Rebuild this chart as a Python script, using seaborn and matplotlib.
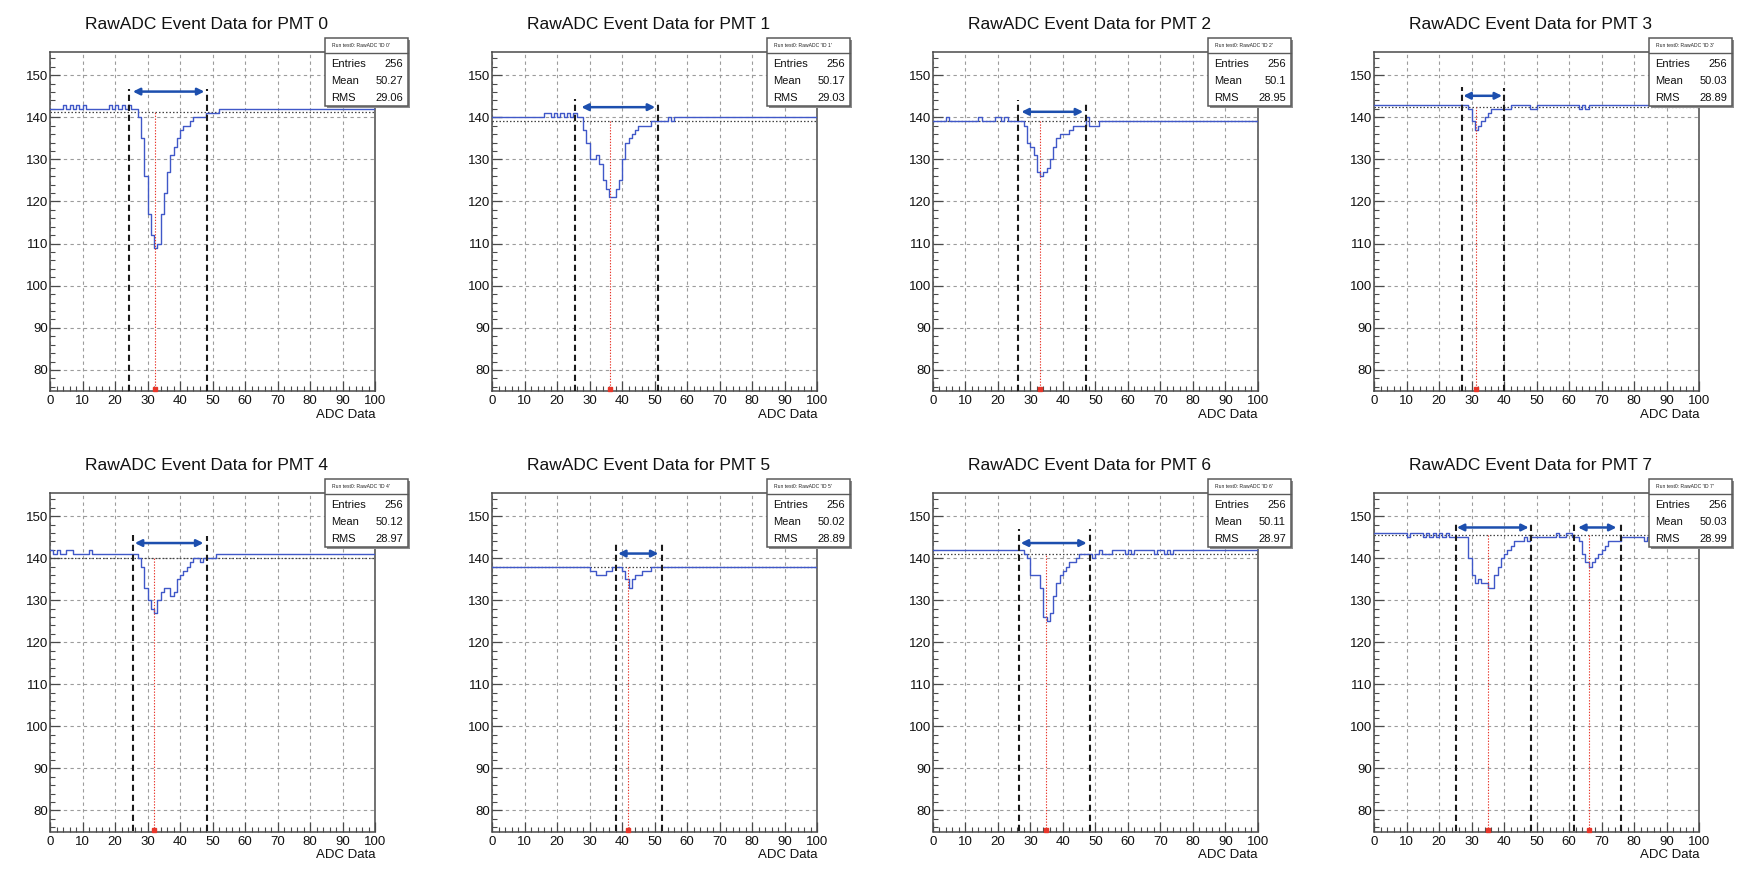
import numpy as np
import pandas as pd
import matplotlib
matplotlib.use("Agg")
import matplotlib.pyplot as plt
from matplotlib.patches import Rectangle
from matplotlib.ticker import MultipleLocator
import seaborn as sns

# ---------------------------------------------------------------------------
# Raw ADC samples per PMT channel, one value per bin (bins 0..99)
# ---------------------------------------------------------------------------
adc_pmt0 = [142, 142, 142, 142, 143, 142, 143, 142, 143, 142,
            143, 142, 142, 142, 142, 142, 142, 142, 143, 142,
            143, 142, 143, 142, 143, 142, 142, 140, 135, 126,
            117, 112, 109, 110, 117, 122, 127, 131, 133, 135,
            137, 138, 138, 139, 140, 140, 140, 140, 141, 141,
            141, 141, 142, 142, 142, 142, 142, 142, 142, 142,
            142, 142, 142, 142, 142, 142, 142, 142, 142, 142,
            142, 142, 142, 142, 142, 142, 142, 142, 142, 142,
            142, 142, 142, 142, 142, 142, 142, 142, 142, 142,
            142, 142, 142, 142, 142, 142, 142, 142, 142, 142]

adc_pmt1 = [140, 140, 140, 140, 140, 140, 140, 140, 140, 140,
            140, 140, 140, 140, 140, 140, 141, 141, 140, 141,
            140, 141, 140, 141, 140, 141, 140, 140, 137, 134,
            130, 130, 131, 129, 125, 123, 121, 121, 123, 125,
            130, 134, 135, 136, 137, 138, 138, 138, 138, 139,
            139, 139, 139, 139, 140, 139, 140, 140, 140, 140,
            140, 140, 140, 140, 140, 140, 140, 140, 140, 140,
            140, 140, 140, 140, 140, 140, 140, 140, 140, 140,
            140, 140, 140, 140, 140, 140, 140, 140, 140, 140,
            140, 140, 140, 140, 140, 140, 140, 140, 140, 140]

adc_pmt2 = [139, 139, 139, 139, 140, 139, 139, 139, 139, 139,
            139, 139, 139, 139, 140, 139, 139, 139, 139, 140,
            140, 139, 140, 139, 139, 139, 139, 139, 138, 134,
            133, 131, 127, 126, 127, 128, 130, 133, 135, 136,
            136, 136, 137, 138, 138, 138, 138, 140, 138, 138,
            138, 139, 139, 139, 139, 139, 139, 139, 139, 139,
            139, 139, 139, 139, 139, 139, 139, 139, 139, 139,
            139, 139, 139, 139, 139, 139, 139, 139, 139, 139,
            139, 139, 139, 139, 139, 139, 139, 139, 139, 139,
            139, 139, 139, 139, 139, 139, 139, 139, 139, 139]

adc_pmt3 = [143, 143, 143, 143, 143, 143, 143, 143, 143, 143,
            143, 143, 143, 143, 143, 143, 143, 143, 143, 143,
            143, 143, 143, 143, 143, 143, 143, 143, 143, 142,
            139, 137, 138, 139, 140, 141, 142, 142, 142, 142,
            142, 142, 143, 143, 143, 143, 143, 143, 142, 142,
            143, 143, 143, 143, 143, 143, 143, 143, 143, 143,
            143, 143, 143, 142, 143, 142, 143, 143, 143, 143,
            143, 143, 143, 143, 143, 143, 143, 143, 143, 143,
            143, 143, 143, 143, 143, 143, 143, 143, 143, 143,
            143, 143, 143, 143, 143, 143, 143, 143, 143, 143]

adc_pmt4 = [142, 141, 142, 141, 141, 142, 142, 141, 141, 141,
            141, 141, 142, 141, 141, 141, 141, 141, 141, 141,
            141, 141, 141, 141, 141, 141, 141, 140, 138, 133,
            130, 128, 127, 130, 132, 133, 133, 131, 132, 135,
            136, 137, 138, 139, 140, 140, 139, 140, 140, 140,
            140, 141, 141, 141, 141, 141, 141, 141, 141, 141,
            141, 141, 141, 141, 141, 141, 141, 141, 141, 141,
            141, 141, 141, 141, 141, 141, 141, 141, 141, 141,
            141, 141, 141, 141, 141, 141, 141, 141, 141, 141,
            141, 141, 141, 141, 141, 141, 141, 141, 141, 141]

adc_pmt5 = [138, 138, 138, 138, 138, 138, 138, 138, 138, 138,
            138, 138, 138, 138, 138, 138, 138, 138, 138, 138,
            138, 138, 138, 138, 138, 138, 138, 138, 138, 138,
            137, 137, 136, 136, 136, 137, 137, 138, 138, 138,
            137, 135, 133, 135, 136, 136, 137, 137, 137, 138,
            138, 138, 138, 138, 138, 138, 138, 138, 138, 138,
            138, 138, 138, 138, 138, 138, 138, 138, 138, 138,
            138, 138, 138, 138, 138, 138, 138, 138, 138, 138,
            138, 138, 138, 138, 138, 138, 138, 138, 138, 138,
            138, 138, 138, 138, 138, 138, 138, 138, 138, 138]

adc_pmt6 = [142, 142, 142, 142, 142, 142, 142, 142, 142, 142,
            142, 142, 142, 142, 142, 142, 142, 142, 142, 142,
            142, 142, 142, 142, 142, 142, 142, 142, 141, 140,
            136, 136, 136, 133, 126, 125, 127, 131, 134, 136,
            137, 138, 139, 139, 140, 141, 141, 141, 141, 140,
            141, 142, 141, 141, 141, 142, 142, 142, 142, 141,
            142, 141, 142, 142, 142, 142, 142, 142, 141, 142,
            142, 141, 142, 141, 142, 142, 142, 142, 142, 142,
            142, 142, 142, 142, 142, 142, 142, 142, 142, 142,
            142, 142, 142, 142, 142, 142, 142, 142, 142, 142]

adc_pmt7 = [146, 146, 146, 146, 146, 146, 146, 146, 146, 146,
            145, 146, 146, 146, 146, 145, 146, 145, 146, 145,
            146, 145, 146, 145, 145, 145, 145, 145, 145, 140,
            136, 134, 135, 134, 134, 133, 133, 136, 138, 140,
            141, 142, 143, 144, 144, 144, 145, 144, 145, 145,
            145, 145, 145, 145, 145, 145, 146, 145, 145, 146,
            146, 145, 145, 144, 141, 139, 138, 139, 140, 141,
            142, 143, 144, 144, 144, 144, 145, 145, 145, 145,
            145, 145, 145, 144, 145, 145, 145, 145, 145, 145,
            145, 145, 145, 145, 145, 145, 145, 145, 145, 145]

channels = [0, 1, 2, 3, 4, 5, 6, 7]
waveforms = [adc_pmt0, adc_pmt1, adc_pmt2, adc_pmt3,
             adc_pmt4, adc_pmt5, adc_pmt6, adc_pmt7]

# Histogram statistics printed in each stats box
stat_entries = [256, 256, 256, 256, 256, 256, 256, 256]
stat_mean = ["50.27", "50.17", "50.1", "50.03", "50.12", "50.02", "50.11", "50.03"]
stat_rms = ["29.06", "29.03", "28.95", "28.89", "28.97", "28.89", "28.97", "28.99"]

# Pulse analysis overlays: pedestal level, integration windows, peak bins
pedestal = [141.2, 139.0, 139.0, 142.5, 140.0, 138.0, 141.0, 145.4]
window_lo = [[24.3], [25.5], [26.2], [27.2], [25.6], [38.3], [26.5], [25.3, 61.5]]
window_hi = [[48.3], [51.2], [47.1], [40.1], [48.3], [52.2], [48.3], [48.4, 76.1]]
window_top_lo = [[146.6], [144.3], [144.0], [147.1], [145.6], [143.9], [147.0], [148.6, 148.4]]
window_top_hi = [[146.6], [143.7], [143.7], [146.9], [145.3], [143.9], [147.0], [148.6, 148.2]]
arrow_y = [[146.1], [142.4], [141.3], [145.1], [143.6], [141.1], [143.6], [147.3, 147.3]]
arrow_x0 = [[25.5], [27.5], [27.2], [27.5], [26.1], [38.8], [27.0], [25.5, 62.8]]
arrow_x1 = [[47.5], [50.2], [46.2], [39.4], [47.2], [51.2], [47.3], [47.6, 74.6]]
peak_x = [[32.2], [36.3], [33.0], [31.3], [32.0], [41.8], [34.9], [35.0, 66.2]]

x_min, x_max = 0, 100
y_min, y_max = 75, 155.5

# Long-form table for seaborn: bin edges with the last value repeated for steps
rows = []
for ch, vals in zip(channels, waveforms):
    edges = np.arange(len(vals) + 1)
    ys = list(vals) + [vals[-1]]
    for e, v in zip(edges, ys):
        rows.append({"pmt": ch, "ADC": e, "value": v})
df = pd.DataFrame(rows)

sns.set_theme(style="white")
plt.rcParams["font.family"] = ["Liberation Sans", "DejaVu Sans"]

fig = plt.figure(figsize=(17.39, 8.72), dpi=100)
fig.patch.set_facecolor("white")

W, H = 1739.0, 872.0
col_left = [50, 492, 933, 1374]
row_top = [52, 493]
row_bottom = [391, 831.5]
ax_w = 325

line_blue = "#4058c8"
arrow_blue = "#1d4fae"
frame = "#4a4a4a"

for i, ch in enumerate(channels):
    r, c = divmod(i, 4)
    left = col_left[c] / W
    bottom = 1 - row_bottom[r] / H
    height = (row_bottom[r] - row_top[r]) / H
    ax = fig.add_axes([left, bottom, ax_w / W, height])
    ax.set_facecolor("white")

    sub = df[df["pmt"] == ch]
    sns.lineplot(data=sub, x="ADC", y="value", ax=ax, drawstyle="steps-post",
                 color=line_blue, lw=1.0, errorbar=None, zorder=4)

    ax.set_xlim(x_min, x_max)
    ax.set_ylim(y_min, y_max)

    # pedestal reference
    ax.axhline(pedestal[i], color="#444444", lw=0.9, ls=(0, (1.2, 1.6)), zorder=3)

    # integration windows
    for k in range(len(window_lo[i])):
        ax.plot([window_lo[i][k], window_lo[i][k]], [y_min, window_top_lo[i][k]],
                color="#1c1c1c", lw=1.5, ls=(0, (3.0, 1.8)), zorder=5)
        ax.plot([window_hi[i][k], window_hi[i][k]], [y_min, window_top_hi[i][k]],
                color="#1c1c1c", lw=1.5, ls=(0, (3.0, 1.8)), zorder=5)
        ax.annotate("", xy=(arrow_x1[i][k], arrow_y[i][k]),
                    xytext=(arrow_x0[i][k], arrow_y[i][k]),
                    arrowprops=dict(arrowstyle="<|-|>", color=arrow_blue, lw=1.8,
                                    mutation_scale=10, shrinkA=0, shrinkB=0),
                    zorder=6)
        ax.plot([peak_x[i][k], peak_x[i][k]], [y_min, pedestal[i]],
                color="#e8362a", lw=0.8, ls=(0, (1.2, 1.4)), zorder=5)
        ax.plot([peak_x[i][k]], [y_min + 0.4], marker="s", ms=2.2,
                color="#e8362a", clip_on=False, zorder=6)

    # axes styling: inward major and minor ticks on left and bottom only
    ax.xaxis.set_major_locator(MultipleLocator(10))
    ax.xaxis.set_minor_locator(MultipleLocator(2))
    ax.yaxis.set_major_locator(MultipleLocator(10))
    ax.yaxis.set_minor_locator(MultipleLocator(2))
    ax.tick_params(axis="both", which="both", bottom=True, left=True,
                   top=False, right=False, direction="in", color=frame)
    ax.tick_params(axis="both", which="major", length=7, width=0.9,
                   labelsize=9.5, labelcolor="#111111")
    ax.tick_params(axis="both", which="minor", length=3.5, width=0.8)
    ax.tick_params(axis="x", which="major", pad=3)
    ax.tick_params(axis="y", which="major", pad=1.5)
    ax.grid(True, which="major", color="#9c9c9c", lw=0.8, ls=(0, (3, 3)))
    ax.grid(False, which="minor")
    for sp in ax.spines.values():
        sp.set_color(frame)
        sp.set_linewidth(1.1)
        sp.set_visible(True)

    ax.set_ylabel("")
    ax.set_xlabel("ADC Data", fontsize=9.5, color="#111111")
    ax.xaxis.set_label_coords(1.0, -24 / 339)
    ax.xaxis.label.set_horizontalalignment("right")
    ax.xaxis.label.set_verticalalignment("center")

    ax.set_title(f"RawADC Event Data for PMT {ch}", fontsize=12.5, x=0.483,
                 y=1.08, va="center", pad=0, color="#111111")

    # stats box with shadow
    bx0, by0, bw, bh = 0.847, 0.841, 0.254, 0.200
    ax.add_patch(Rectangle((bx0 + 0.006, by0 - 0.006), bw, bh, transform=ax.transAxes,
                           clip_on=False, fc="#8c8c8c", ec="none", zorder=9))
    ax.add_patch(Rectangle((bx0, by0), bw, bh, transform=ax.transAxes,
                           clip_on=False, fc="white", ec="#5a5a5a", lw=1.1, zorder=10))
    ax.plot([bx0, bx0 + bw], [0.997, 0.997], transform=ax.transAxes,
            color="#5a5a5a", lw=1.0, clip_on=False, zorder=11)
    ax.text(bx0 + 0.02, 1.019, f"Run test0: RawADC 'ID {ch}'", transform=ax.transAxes,
            fontsize=3.6, ha="left", va="center", color="#222222", zorder=12)
    for yy, lab, val in ((0.965, "Entries", str(stat_entries[i])),
                         (0.914, "Mean", stat_mean[i]),
                         (0.864, "RMS", stat_rms[i])):
        ax.text(0.865, yy, lab, transform=ax.transAxes, fontsize=8, ha="left",
                va="center", color="#111111", zorder=12)
        ax.text(1.086, yy, val, transform=ax.transAxes, fontsize=8, ha="right",
                va="center", color="#111111", zorder=12)

fig.savefig("out.png", dpi=100, facecolor="white")
